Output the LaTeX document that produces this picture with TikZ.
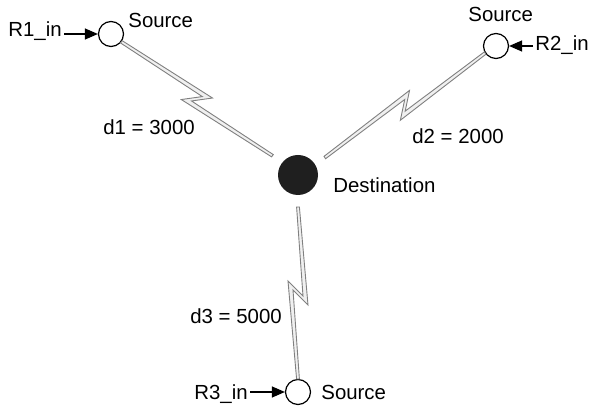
\documentclass[tikz,border=0pt]{standalone}
\usepackage{fontspec}
\setmainfont{Liberation Sans}
\usetikzlibrary{arrows.meta,calc}

\tikzset{
	bolt/.style={draw=black!50, fill=gray!12, line width=0.45pt, to path={
		let \p1=($(\tikztostart)!6.5pt!(\tikztotarget)$),
		    \p2=($(\tikztotarget)!16pt!(\tikztostart)$),
		    \p3=($(\p1)!0.5!(\p2)$),
		    \n1={atan2(\y2-\y1,\x2-\x1)} in
		($(\p1)+({\n1+90}:0.7pt)$)
		  -- ($(\p3)+({\n1}:6pt)+({\n1+90}:5pt)$)
		  -- ($(\p3)+({\n1}:-1.5pt)+({\n1+90}:-2.5pt)$)
		  -- ($(\p2)+({\n1+90}:0.7pt)$)
		  -- ($(\p2)+({\n1+90}:-0.7pt)$)
		  -- ($(\p3)+({\n1}:-6pt)+({\n1+90}:-5pt)$)
		  -- ($(\p3)+({\n1}:1.5pt)+({\n1+90}:2.5pt)$)
		  -- ($(\p1)+({\n1+90}:-0.7pt)$)
		  -- cycle}}
}

\begin{document}
\begin{tikzpicture}[x=0.5pt, y=-0.5pt,
	src/.style={circle, draw, line width=0.6pt, fill=white, minimum size=12.5pt, inner sep=0pt},
	sink/.style={circle, fill=black!88, minimum size=20pt, inner sep=0pt},
	lbl/.style={inner sep=0pt, anchor=base west, font=\fontsize{10.2}{12}\selectfont},
	feed/.style={-{Triangle[length=6.5pt,width=5.5pt]}, line width=0.6pt, shorten <=1pt}]

	\useasboundingbox (0,0) rectangle (596,406);

	% stations
	\node[src] (s1) at (111,34) {};
	\node[src] (s2) at (496,46) {};
	\node[src] (s3) at (298,392) {};
	\node[sink] (dst) at (298,175) {};

	% texts
	\node[lbl] (t1) at (128,28) {Source};
	\node[lbl] (t2) at (468,22) {Source};
	\node[lbl] (t3) at (321,400) {Source};
	\node[lbl] (tdst) at (333,193) {Destination};
	\node[lbl] (r1) at (8,37) {R1\_in};
	\node[lbl] (r2) at (535,51) {R2\_in};
	\node[lbl] (r3) at (194,400) {R3\_in};
	\node[lbl] (d1) at (103,135) {d1 = 3000};
	\node[lbl] (d2) at (412,144) {d2 = 2000};
	\node[lbl] (d3) at (190,324) {d3 = 5000};

	% wireless links
	\draw[bolt] (s1) to (dst);
	\draw[bolt] (s2) to (dst);
	\draw[bolt] (s3) to (dst);

	% inputs
	\draw[feed] (r1.east |- s1) -- (s1);
	\draw[feed] (r2.west |- s2) -- (s2);
	\draw[feed] (r3.east |- s3) -- (s3);
\end{tikzpicture}
\end{document}
